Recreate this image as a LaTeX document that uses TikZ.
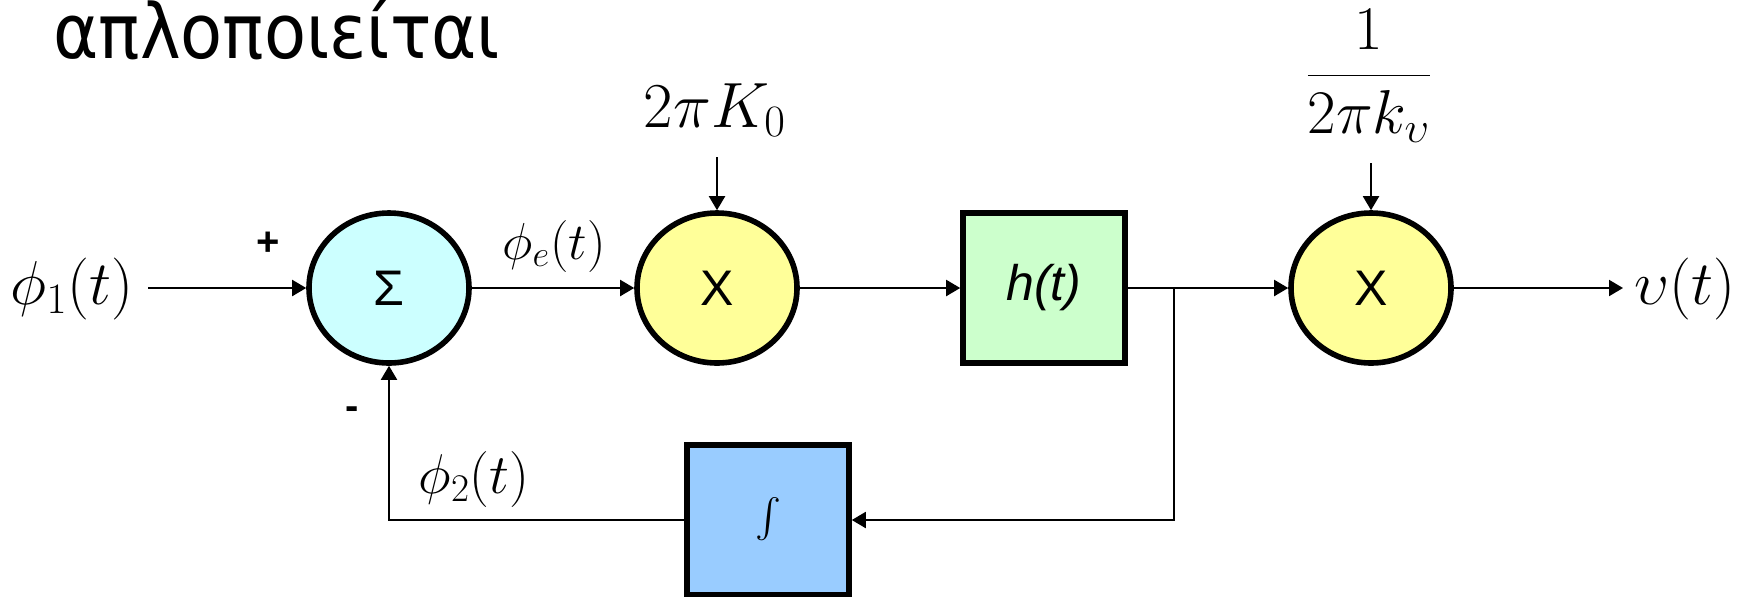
\RequirePackage{fix-cm}
\documentclass[tikz,border=0pt]{standalone}
\usepackage{graphicx}
\usepackage{fontspec}
\setsansfont{Liberation Sans}
\newfontfamily\titlefont{DejaVu Sans}
\usetikzlibrary{arrows.meta,shapes.geometric}
\definecolor{sumfill}{HTML}{CCFFFF}
\definecolor{mulfill}{HTML}{FFFF99}
\definecolor{filtfill}{HTML}{CCFFCC}
\definecolor{intfill}{HTML}{99CCFF}
\tikzset{
  blk/.style={draw, line width=2.8pt, inner sep=0pt},
  oval/.style={blk, ellipse, minimum width=80pt, minimum height=75pt, font=\sffamily\fontsize{25}{30}\selectfont},
  blockbox/.style={blk, rectangle, minimum width=81pt, minimum height=75pt, font=\sffamily\fontsize{25}{30}\selectfont},
  conn/.style={line width=1pt, -{Triangle[length=7pt,width=8pt]}},
  lbl/.style={inner sep=0pt},
  sgn/.style={inner sep=0pt, font=\sffamily\bfseries\fontsize{20}{24}\selectfont}
}
\begin{document}
\begin{tikzpicture}[x=0.5pt,y=-0.5pt]
\useasboundingbox (0,0) rectangle (1748,596);
\node[lbl, anchor=base west, xscale=0.905, font=\titlefont\fontsize{38}{44}\selectfont] (title) at (53,58) {απλοποιείται};

\node[oval, fill=sumfill] (sum) at (389,288) {Σ};
\node[oval, fill=mulfill] (x1) at (717,288) {X};
\node[blockbox, fill=filtfill] (h) at (1044,288) {\itshape h(t)};
\node[oval, fill=mulfill] (x2) at (1371,288) {X};
\node[blockbox, fill=intfill] (int) at (768,520) {\resizebox{!}{23pt}{$\int$}};

\node[lbl, anchor=base, font=\fontsize{31}{36}\selectfont] (phi1) at (72,304) {$\phi_1(t)$};
\node[lbl, anchor=base, font=\fontsize{26}{31}\selectfont] (phie) at (554,259) {$\phi_e(t)$};
\node[lbl, anchor=base, font=\fontsize{28}{33}\selectfont] (phi2) at (474,493) {$\phi_2(t)$};
\node[lbl, anchor=base, font=\fontsize{31}{36}\selectfont] (ups) at (1685,304) {$\upsilon(t)$};
\node[lbl, anchor=base, font=\fontsize{32}{38}\selectfont] (k0) at (715,127) {$2\pi K_0$};
\node[lbl, anchor=base, font=\fontsize{31}{36}\selectfont] (kv) at (1369,91) {$\displaystyle\frac{1}{2\pi k_\upsilon}$};
\node[sgn] (plus) at (268,244) {+};
\node[sgn] (minus) at (352,413) {-};

\coordinate (in1) at (148,288);
\coordinate (out) at (1623,288);
\coordinate (br) at (1174,288);
\coordinate (k0in) at (717,157);
\coordinate (kvin) at (1371,163);

\draw[conn] (in1) -- (sum.west);
\draw[conn] (sum) -- (x1);
\draw[conn] (x1) -- (h);
\draw[conn] (h) -- (x2);
\draw[conn] (x2) -- (out);
\draw[conn] (br) |- (int.east);
\draw[conn] (int.west) -| (sum.south);
\draw[conn] (k0in) -- (x1.north);
\draw[conn] (kvin) -- (x2.north);
\end{tikzpicture}
\end{document}
